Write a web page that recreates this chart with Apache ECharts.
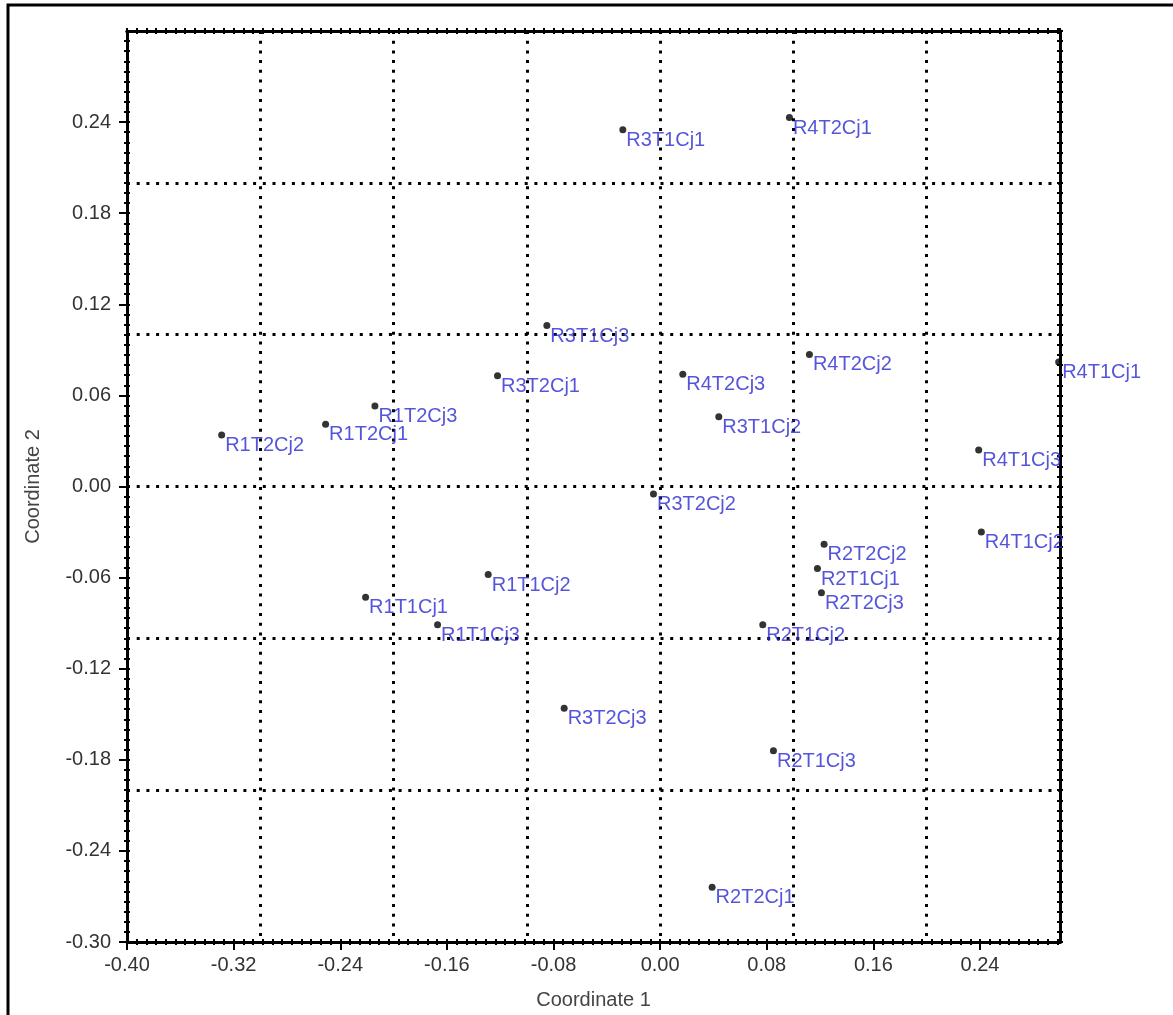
<!DOCTYPE html>
<html>
<head>
<meta charset="utf-8">
<script src="https://cdn.jsdelivr.net/npm/echarts@6/dist/echarts.min.js"></script>
<style>
  html, body { margin: 0; padding: 0; background: #fff; }
  #chart { width: 1173px; height: 1015px; }
</style>
</head>
<body>
<div id="chart"></div>
<script>
// Sample names and their ordination scores
const sampleNames = [
  'R3T1Cj1', 'R4T2Cj1', 'R3T1Cj3', 'R3T2Cj1', 'R4T2Cj3', 'R4T2Cj2',
  'R4T1Cj1', 'R1T2Cj3', 'R1T2Cj1', 'R1T2Cj2', 'R3T1Cj2', 'R4T1Cj3',
  'R3T2Cj2', 'R4T1Cj2', 'R2T2Cj2', 'R2T1Cj1', 'R2T2Cj3', 'R1T1Cj2',
  'R1T1Cj1', 'R1T1Cj3', 'R2T1Cj2', 'R3T2Cj3', 'R2T1Cj3', 'R2T2Cj1'
];
const coord1 = [
  -0.028, 0.097, -0.085, -0.122, 0.017, 0.112,
  0.299, -0.214, -0.251, -0.329, 0.044, 0.239,
  -0.005, 0.241, 0.123, 0.118, 0.121, -0.129,
  -0.221, -0.167, 0.077, -0.072, 0.085, 0.039
];
const coord2 = [
  0.235, 0.243, 0.106, 0.073, 0.074, 0.087,
  0.082, 0.053, 0.041, 0.034, 0.046, 0.024,
  -0.005, -0.030, -0.038, -0.054, -0.070, -0.058,
  -0.073, -0.091, -0.091, -0.146, -0.174, -0.264
];

// Axis ranges, labelled ticks and dotted grid spacing
const xRange = [-0.40, 0.30];
const yRange = [-0.30, 0.30];
const xTickValues = [-0.40, -0.32, -0.24, -0.16, -0.08, 0.00, 0.08, 0.16, 0.24];
const yTickValues = [-0.30, -0.24, -0.18, -0.12, -0.06, 0.00, 0.06, 0.12, 0.18, 0.24];
const xTickStep = 0.08;
const yTickStep = 0.06;
const gridStep = 0.1;

const FONT = 'Liberation Sans, Arial, sans-serif';
const fmt = v => (Math.abs(v) < 1e-9 ? 0 : v).toFixed(2);

const frameLine = { show: true, onZero: false, lineStyle: { color: '#000', width: 3 } };
const hiddenLine = { show: false, onZero: false };
const dotTick = { width: 2, color: '#000' };

// A plain axis that only contributes short tick marks along the frame
function tickAxis(pos, range, step, minorSplit, inside) {
  return {
    type: 'value', position: pos, min: range[0], max: range[1], interval: step,
    axisLine: pos === 'top' || pos === 'right' ? frameLine : hiddenLine,
    axisTick: { show: true, inside: inside, length: 3, lineStyle: dotTick },
    minorTick: { show: true, splitNumber: minorSplit, length: 3, lineStyle: dotTick },
    axisLabel: { show: false },
    splitLine: { show: false },
    minorSplitLine: { show: false }
  };
}

// Axis drawing only the dotted reference grid
function gridAxis(range) {
  return {
    type: 'value', min: range[0], max: range[1], interval: gridStep,
    axisLine: hiddenLine, axisTick: { show: false }, axisLabel: { show: false },
    splitLine: { show: true, lineStyle: { color: '#000', width: 3, type: [3, 6.7] } }
  };
}

const chart = echarts.init(document.getElementById('chart'));
chart.setOption({
  animation: false,
  backgroundColor: '#fff',
  grid: { left: 127, right: 113, top: 31, bottom: 72 },
  graphic: [{
    type: 'polyline',
    shape: { points: [[8, 1015], [8, 5], [1173, 5]] },
    style: { stroke: '#000', lineWidth: 3, fill: null },
    silent: true
  }],
  xAxis: [
    gridAxis(xRange),
    {
      type: 'value', position: 'bottom', min: xRange[0], max: xRange[1], interval: xTickStep,
      name: 'Coordinate 1', nameLocation: 'middle', nameGap: 48,
      nameTextStyle: { fontFamily: FONT, fontSize: 20, color: '#444' },
      axisLine: frameLine,
      axisTick: { show: true, length: 8, customValues: xTickValues, lineStyle: { width: 2, color: '#000' } },
      minorTick: { show: true, splitNumber: 11, length: 3, lineStyle: dotTick },
      axisLabel: {
        show: true, customValues: xTickValues, formatter: fmt, margin: 13,
        fontFamily: FONT, fontSize: 20, color: '#333'
      },
      splitLine: { show: false }
    },
    tickAxis('bottom', xRange, xTickStep, 11, true),
    tickAxis('top', xRange, xTickStep, 11, false),
    tickAxis('top', xRange, xTickStep, 11, true)
  ],
  yAxis: [
    gridAxis(yRange),
    {
      type: 'value', position: 'left', min: yRange[0], max: yRange[1], interval: yTickStep,
      name: 'Coordinate 2', nameLocation: 'middle', nameGap: 84,
      nameTextStyle: { fontFamily: FONT, fontSize: 20, color: '#444' },
      axisLine: frameLine,
      axisTick: { show: true, length: 8, customValues: yTickValues, lineStyle: { width: 2, color: '#000' } },
      minorTick: { show: true, splitNumber: 9, length: 3, lineStyle: dotTick },
      axisLabel: {
        show: true, customValues: yTickValues, formatter: fmt, margin: 16,
        fontFamily: FONT, fontSize: 20, color: '#333'
      },
      splitLine: { show: false }
    },
    tickAxis('left', yRange, yTickStep, 9, true),
    tickAxis('right', yRange, yTickStep, 9, false),
    tickAxis('right', yRange, yTickStep, 9, true)
  ],
  series: [{
    type: 'scatter',
    xAxisIndex: 1, yAxisIndex: 1,
    symbol: 'circle', symbolSize: 7,
    itemStyle: { color: '#000' },
    clip: false,
    z: 5,
    label: {
      show: true,
      formatter: p => p.data[2],
      position: [7, 14],
      align: 'left', verticalAlign: 'middle',
      fontFamily: FONT, fontSize: 20, color: '#2a2ad2'
    },
    emphasis: { disabled: true },
    data: sampleNames.map((n, i) => [coord1[i], coord2[i], n])
  }]
});
</script>
</body>
</html>
